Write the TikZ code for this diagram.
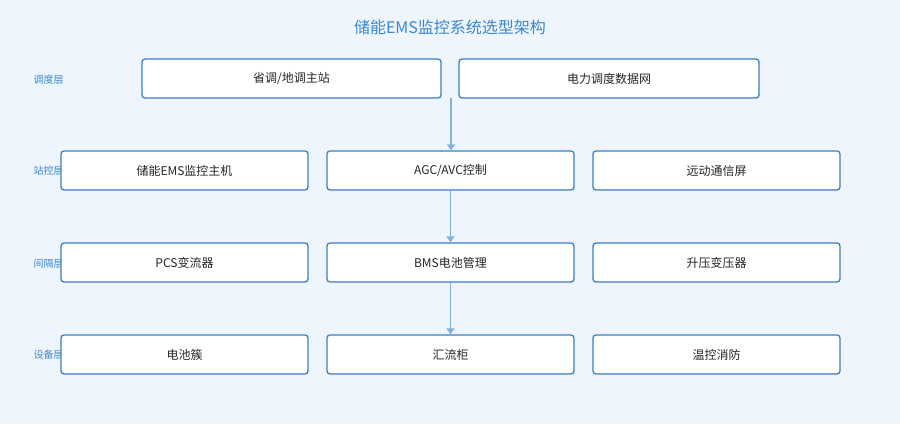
\documentclass[tikz,border=0pt]{standalone}
\usepackage{fontspec}
\setmainfont{Noto Sans CJK SC}
\usetikzlibrary{arrows.meta}
\definecolor{bgblue}{HTML}{EEF5FC}
\definecolor{edgeblue}{HTML}{3A7FC1}
\definecolor{arrowblue}{HTML}{7FB2DD}
\definecolor{titleblue}{HTML}{3C87CC}
\tikzset{
  box/.style={draw=edgeblue,line width=1.3pt,fill=white,rounded corners=3pt,
    inner sep=0pt,font=\fontsize{12}{14}\selectfont,text=black!85},
  layer/.style={font=\fontsize{10}{12}\selectfont,text=titleblue,anchor=west},
  flow/.style={draw=arrowblue,line width=1.5pt,-{Triangle[width=8pt,length=6pt]}}
}
\begin{document}
\begin{tikzpicture}[x=1pt,y=-1pt]
  \fill[bgblue] (0,0) rectangle (900,424);
  \useasboundingbox (0,0) rectangle (900,424);
  \node[font=\fontsize{16}{18}\selectfont,text=titleblue](title) at(450,27) {储能EMS监控系统选型架构};

  % layer labels
  \node[layer](L1) at(30,80) {调度层};
  \node[layer](L2) at(30,171) {站控层};
  \node[layer](L3) at(30,264) {间隔层};
  \node[layer](L4) at(30,355) {设备层};

  % boxes
  \node[box,minimum width=299pt,minimum height=39pt](S1) at(291.5,78.5) {省调/地调主站};
  \node[box,minimum width=300pt,minimum height=39pt](S2) at(609,78.5) {电力调度数据网};
  \foreach \n/\x/\y/\t in {C1/184.5/170.5/储能EMS监控主机, C2/450.5/170.5/{AGC/AVC控制},
    C3/716.5/170.5/远动通信屏, B1/184.5/262.5/PCS变流器, B2/450.5/262.5/BMS电池管理,
    B3/716.5/262.5/升压变压器, D1/184.5/354.5/电池簇, D2/450.5/354.5/汇流柜,
    D3/716.5/354.5/温控消防}{
    \node[box,minimum width=247pt,minimum height=39pt](\n) at(\x,\y) {\t};
  }

  \coordinate(top) at(451,98);
  \draw[flow](top)--(top|-C2.north);
  \draw[flow](C2)--(B2);
  \draw[flow](B2)--(D2);
\end{tikzpicture}
\end{document}
